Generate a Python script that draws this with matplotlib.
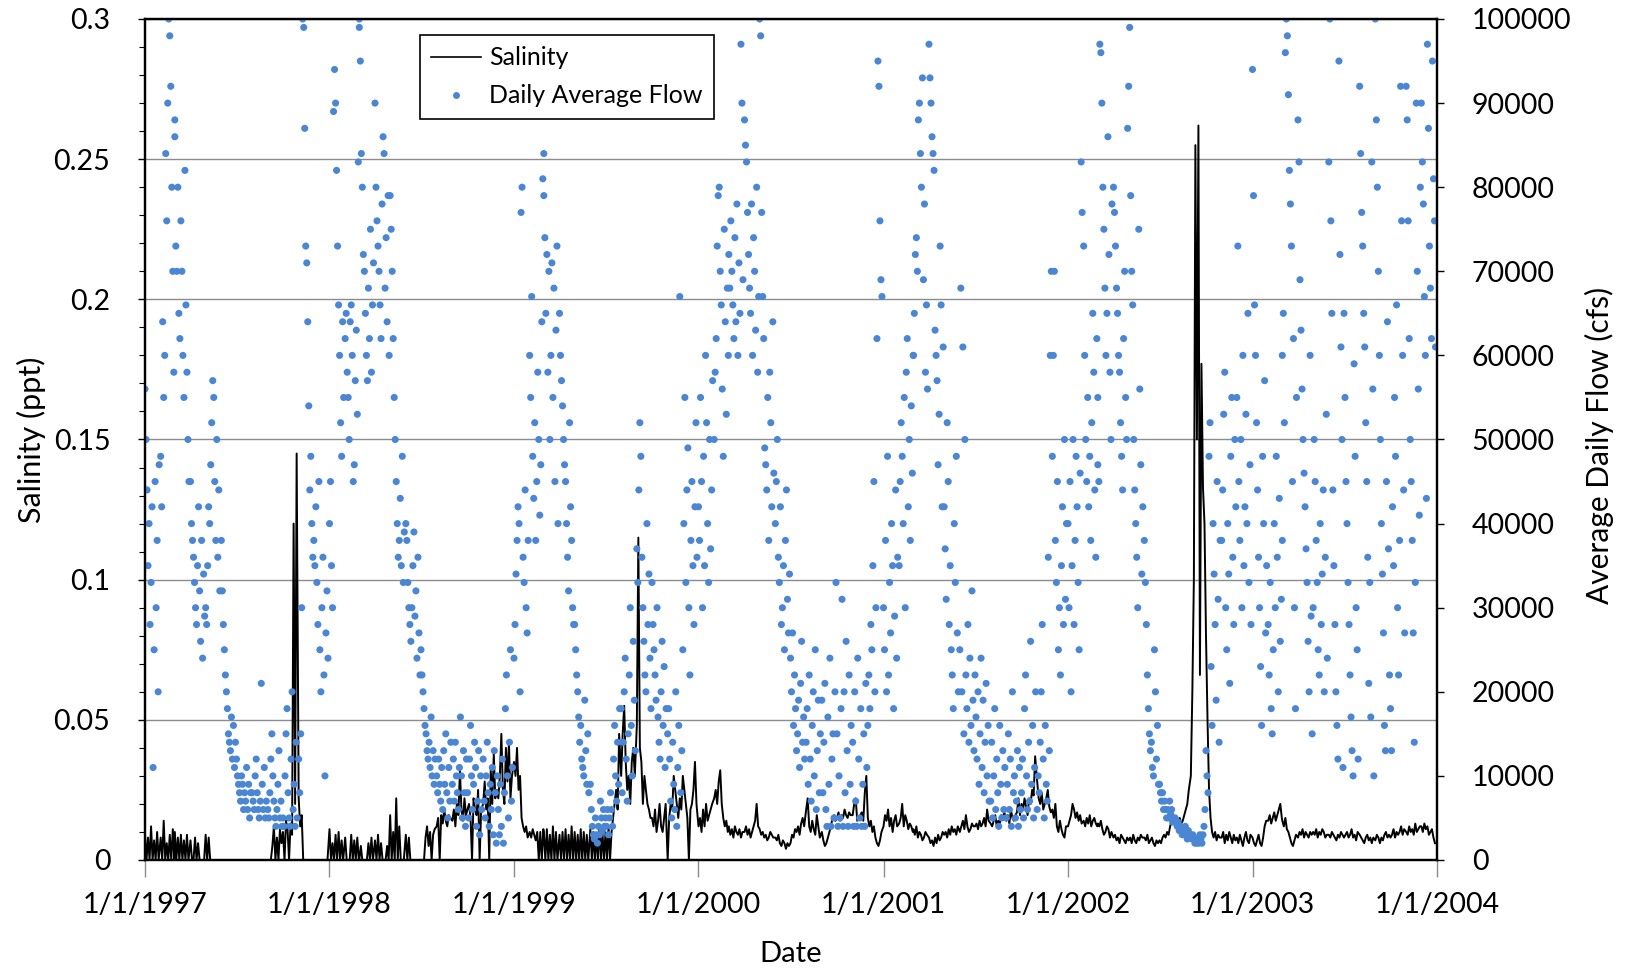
import numpy as np
import pandas as pd
import matplotlib
matplotlib.use("Agg")
import matplotlib.pyplot as plt
from matplotlib.ticker import MultipleLocator, FuncFormatter
from matplotlib.lines import Line2D

#%% --- Data ---

years = [1997, 1998, 1999, 2000, 2001, 2002, 2003]
flow_days = [1, 3, 5, 7, 9, 11, 13, 15, 17, 19, 21, 23, 25, 27, 29]
sal_days = [1, 4, 7, 10, 13, 16, 19, 22, 25, 28]
tick_years = [1997, 1998, 1999, 2000, 2001, 2002, 2003, 2004]

# Daily average flow, thousands of cfs (15 readings per month)
flow_1997 = [56, 50, 44, 35, 40, 28, 33, 42, 11, 25, 45, 30, 38, 20, 47,
             48, 42, 64, 55, 60, 84, 76, 90, 100, 98, 92, 80, 70, 58, 86,
             88, 73, 70, 80, 65, 62, 76, 70, 60, 55, 82, 66, 58, 50, 45,
             45, 40, 38, 36, 33, 30, 28, 35, 42, 32, 26, 38, 24, 34, 29,
             30, 28, 35, 42, 40, 47, 52, 57, 55, 45, 38, 50, 36, 44, 32,
             38, 32, 28, 25, 22, 20, 18, 15, 14, 13, 17, 12, 16, 11, 14,
             12, 10, 9, 8, 7, 10, 9, 6, 8, 7, 11, 6, 9, 5, 8,
             8, 7, 6, 10, 12, 8, 6, 5, 7, 21, 9, 6, 11, 5, 7,
             6, 5, 8, 12, 15, 10, 7, 5, 4, 6, 9, 13, 5, 7, 4,
             5, 4, 10, 15, 18, 8, 5, 4, 12, 20, 6, 9, 4, 14, 5,
             12, 8, 15, 30, 100, 99, 87, 73, 71, 64, 54, 44, 48, 40, 36,
             38, 35, 42, 33, 28, 45, 25, 20, 30, 36, 22, 10, 27, 32, 24]
flow_1998 = [40, 45, 35, 30, 89, 94, 90, 82, 73, 66, 60, 52, 48, 64, 55,
             62, 65, 58, 55, 50, 64, 66, 60, 45, 47, 57, 63, 53, 83, 99,
             100, 95, 84, 80, 72, 70, 65, 60, 57, 68, 62, 75, 58, 66, 71,
             90, 80, 76, 73, 70, 66, 62, 78, 86, 84, 68, 74, 64, 79, 60,
             79, 75, 70, 62, 55, 50, 45, 40, 36, 38, 43, 35, 48, 33, 39,
             40, 38, 33, 30, 28, 26, 30, 35, 39, 29, 32, 24, 36, 27, 22,
             25, 22, 20, 18, 16, 15, 13, 12, 14, 11, 17, 10, 13, 9, 12,
             10, 8, 12, 9, 7, 11, 6, 13, 9, 15, 8, 5, 11, 7, 14,
             9, 12, 7, 14, 10, 8, 6, 11, 17, 10, 5, 13, 8, 4, 12,
             8, 5, 12, 16, 10, 6, 9, 14, 11, 4, 7, 13, 3, 10, 6,
             12, 7, 5, 10, 14, 8, 4, 9, 6, 11, 3, 13, 8, 2, 10,
             6, 3, 9, 4, 12, 2, 8, 18, 22, 10, 5, 14, 25, 7, 11]
flow_1999 = [24, 28, 34, 38, 42, 40, 20, 77, 80, 36, 33, 44, 30, 27, 38,
             60, 55, 67, 48, 43, 52, 38, 45, 58, 50, 41, 47, 64, 81, 84,
             79, 74, 65, 72, 58, 70, 50, 60, 71, 55, 68, 45, 63, 73, 40,
             65, 60, 57, 54, 50, 47, 45, 40, 36, 32, 52, 42, 38, 30, 28,
             28, 25, 22, 20, 17, 14, 16, 12, 11, 10, 19, 13, 9, 15, 8,
             9, 6, 4, 3, 2.5, 5, 3, 2, 4, 3, 7, 5, 3.5, 6, 4,
             5, 4, 6, 3, 5, 8, 6, 4, 12, 16, 10, 7, 14, 9, 18,
             18, 8, 14, 20, 24, 12, 7, 15, 22, 30, 16, 10, 26, 19, 13,
             37, 33, 44, 52, 48, 36, 30, 26, 22, 20, 40, 28, 34, 24, 18,
             33, 28, 25, 22, 19, 30, 17, 14, 12, 20, 26, 16, 23, 11, 18,
             15, 18, 12, 7, 5, 14, 9, 6, 20, 4, 11, 16, 67, 8, 13,
             25, 40, 55, 33, 44, 49, 30, 22, 38, 45, 35, 28, 42, 52, 36]
flow_2000 = [42, 38, 55, 45, 30, 48, 35, 60, 52, 40, 33, 50, 37, 44, 57,
             50, 58, 62, 73, 79, 80, 70, 66, 56, 48, 75, 64, 53, 68, 60,
             72, 68, 76, 70, 66, 62, 74, 64, 78, 60, 71, 65, 97, 90, 69,
             88, 85, 83, 77, 72, 68, 65, 78, 60, 74, 70, 63, 80, 58, 67,
             100, 98, 77, 67, 62, 49, 47, 44, 55, 38, 58, 52, 42, 64, 46,
             40, 45, 50, 36, 33, 42, 28, 30, 35, 25, 38, 44, 31, 27, 34,
             24, 20, 27, 16, 22, 18, 13, 15, 19, 11, 21, 26, 14, 17, 12,
             14, 18, 9, 22, 12, 7, 16, 20, 10, 25, 6, 13, 19, 8, 15,
             19, 8, 14, 21, 6, 4, 17, 9, 24, 4, 12, 15, 5, 20, 33,
             15, 4, 10, 5, 18, 31, 4, 20, 8, 26, 13, 4, 22, 9, 16,
             14, 4, 20, 7, 4, 24, 12, 5, 18, 4, 9, 15, 4, 21, 11,
             16, 22, 18, 28, 25, 35, 45, 20, 30, 62, 95, 92, 76, 69, 67]
flow_2001 = [30, 25, 38, 20, 48, 22, 33, 27, 40, 35, 18, 29, 44, 24, 36,
             35, 45, 52, 48, 40, 55, 30, 58, 62, 42, 50, 38, 54, 46, 60,
             60, 65, 72, 74, 70, 88, 90, 84, 80, 93, 69, 78, 58, 66, 56,
             97, 93, 90, 86, 84, 82, 63, 60, 57, 47, 53, 73, 66, 42, 61,
             42, 37, 31, 52, 45, 28, 35, 25, 22, 18, 40, 33, 48, 27, 20,
             25, 68, 20, 61, 15, 50, 22, 18, 28, 14, 24, 16, 32, 19, 13,
             22, 17, 12, 20, 9, 15, 24, 11, 19, 8, 14, 21, 10, 16, 7,
             7, 14, 5, 10, 18, 6, 12, 8, 4, 16, 9, 5, 13, 6, 11,
             5, 9, 15, 6, 12, 4, 20, 8, 10, 5, 7, 13, 4, 11, 6,
             8, 12, 5, 18, 22, 10, 6, 14, 7, 26, 9, 16, 5, 11, 20,
             6, 10, 8, 14, 20, 28, 12, 5, 16, 9, 7, 36, 13, 60, 70,
             48, 60, 70, 38, 33, 45, 25, 30, 22, 35, 42, 28, 50, 31, 40]
flow_2002 = [40, 30, 45, 20, 35, 50, 28, 38, 48, 42, 33, 25, 46, 83, 77,
             73, 60, 50, 45, 55, 42, 48, 38, 52, 65, 58, 44, 36, 62, 47,
             55, 45, 97, 96, 90, 80, 75, 68, 60, 65, 86, 72, 58, 50, 78,
             80, 77, 73, 68, 65, 60, 58, 52, 48, 44, 62, 70, 55, 50, 87,
             92, 99, 79, 70, 66, 50, 44, 40, 36, 30, 75, 56, 47, 34, 42,
             38, 33, 28, 22, 18, 15, 13, 14, 11, 10, 25, 20, 12, 16, 9,
             9, 8, 7, 8, 6, 7, 6, 5, 6, 5, 7, 5.5, 6, 4.5, 5,
             5, 4.5, 4, 4.5, 3.5, 4, 3.5, 3, 3.5, 3, 4, 3, 2.5, 3.5, 3,
             3, 2.5, 3, 2.5, 2, 2.5, 2, 2.5, 2, 3, 2.5, 2, 3, 4, 6,
             13, 10, 8, 48, 52, 23, 16, 40, 34, 28, 19, 45, 31, 14, 38,
             38, 44, 53, 58, 30, 25, 40, 34, 21, 48, 55, 36, 28, 50, 42,
             55, 73, 45, 38, 50, 30, 60, 35, 42, 53, 40, 65, 33, 47, 28]
flow_2003 = [94, 79, 66, 60, 52, 44, 36, 30, 23, 16, 48, 40, 57, 27, 35,
             28, 22, 33, 18, 15, 25, 40, 30, 48, 36, 20, 43, 26, 31, 38,
             60, 65, 52, 96, 100, 98, 91, 82, 78, 73, 45, 62, 30, 18, 55,
             88, 83, 69, 63, 56, 50, 46, 42, 37, 33, 26, 20, 60, 29, 15,
             30, 50, 45, 38, 33, 25, 22, 40, 28, 34, 44, 20, 36, 53, 24,
             83, 100, 76, 65, 44, 35, 28, 20, 16, 12, 95, 72, 61, 50, 11,
             65, 55, 45, 40, 33, 28, 22, 17, 13, 10, 59, 48, 30, 25, 12,
             92, 84, 77, 73, 65, 61, 52, 45, 36, 21, 33, 17, 83, 56, 10,
             100, 88, 80, 70, 60, 50, 40, 34, 27, 16, 13, 45, 64, 37, 22,
             18, 13, 42, 35, 55, 48, 66, 30, 22, 38, 92, 76, 60, 44, 27,
             92, 88, 76, 62, 50, 45, 38, 27, 14, 33, 90, 70, 56, 41, 80,
             90, 83, 78, 67, 60, 43, 97, 87, 73, 68, 62, 95, 81, 76, 61]

# Salinity, ppt (10 readings per month)
sal_1997 = [0.009, 0, 0.008, 0, 0.012, 0, 0.007, 0, 0.010, 0,
            0.008, 0, 0.014, 0, 0.006, 0, 0.009, 0, 0.011, 0,
            0.010, 0, 0.008, 0, 0.009, 0, 0.007, 0, 0.009, 0,
            0.007, 0, 0, 0.008, 0, 0.006, 0, 0, 0, 0,
            0.009, 0, 0.008, 0, 0, 0, 0, 0, 0, 0,
            0, 0, 0, 0, 0, 0, 0, 0, 0, 0,
            0, 0, 0, 0, 0, 0, 0, 0, 0, 0,
            0, 0, 0, 0, 0, 0, 0, 0, 0, 0,
            0, 0, 0, 0.005, 0.012, 0, 0.008, 0, 0.011, 0.006,
            0.010, 0, 0.014, 0.011, 0, 0.013, 0.009, 0.120, 0.020, 0.145,
            0.022, 0.012, 0.016, 0, 0, 0, 0, 0, 0, 0,
            0, 0, 0, 0, 0, 0, 0, 0, 0, 0]
sal_1998 = [0.011, 0, 0.006, 0, 0.009, 0, 0.010, 0, 0.007, 0,
            0.008, 0, 0, 0, 0.009, 0, 0.007, 0, 0.008, 0,
            0, 0.005, 0, 0, 0, 0, 0.006, 0, 0.008, 0,
            0.007, 0, 0.009, 0, 0.006, 0, 0, 0, 0.005, 0,
            0.016, 0, 0.010, 0, 0.022, 0, 0.012, 0, 0, 0,
            0.009, 0, 0.008, 0, 0, 0, 0, 0, 0, 0,
            0, 0, 0, 0.008, 0.012, 0.005, 0.010, 0, 0.009, 0.011,
            0.012, 0.015, 0, 0.016, 0.013, 0.018, 0.014, 0.012, 0.016, 0.015,
            0.014, 0.018, 0.012, 0.020, 0.016, 0.032, 0.018, 0.014, 0.022, 0.016,
            0.018, 0.020, 0.015, 0, 0.022, 0.018, 0.016, 0.025, 0, 0.018,
            0.020, 0.028, 0.018, 0.022, 0, 0.032, 0.020, 0.038, 0.022, 0.025,
            0.022, 0.030, 0.045, 0.025, 0.020, 0.040, 0.028, 0.042, 0.022, 0.030]
sal_1999 = [0.035, 0.030, 0.040, 0.025, 0.030, 0.015, 0.012, 0.010, 0.012, 0.008,
            0.010, 0.008, 0.011, 0.009, 0.007, 0.010, 0, 0.010, 0, 0.011,
            0.010, 0, 0.011, 0, 0.009, 0, 0.012, 0, 0.010, 0,
            0.009, 0, 0.010, 0, 0.011, 0, 0.009, 0, 0.012, 0,
            0.010, 0, 0.009, 0, 0.011, 0, 0.010, 0, 0.009, 0,
            0.011, 0, 0.010, 0, 0.009, 0, 0.012, 0, 0.010, 0,
            0.010, 0, 0.012, 0, 0.010, 0.015, 0.020, 0.025, 0.018, 0.045,
            0.030, 0.045, 0.055, 0.035, 0.025, 0.030, 0.020, 0.035, 0.040, 0.030,
            0.048, 0.115, 0.040, 0.035, 0.020, 0.030, 0.025, 0.020, 0.018, 0.015,
            0.015, 0.012, 0.018, 0.010, 0.014, 0.020, 0.012, 0.010, 0.015, 0.020,
            0, 0.015, 0.020, 0.018, 0.030, 0.025, 0.020, 0.015, 0.022, 0.018,
            0.030, 0.025, 0.020, 0.015, 0, 0.018, 0.020, 0.025, 0.035, 0.020]
sal_2000 = [0.012, 0.015, 0.010, 0.018, 0.012, 0.020, 0.014, 0.016, 0.018, 0.020,
            0.022, 0.025, 0.020, 0.028, 0.032, 0.020, 0.015, 0.012, 0.014, 0.010,
            0.012, 0.009, 0.011, 0.008, 0.012, 0.010, 0.009, 0.011, 0.008, 0.010,
            0.010, 0.012, 0.009, 0.011, 0.008, 0.010, 0.012, 0.014, 0.020, 0.012,
            0.011, 0.009, 0.010, 0.008, 0.009, 0.007, 0.008, 0.010, 0.009, 0.008,
            0.008, 0.007, 0.009, 0.006, 0.005, 0.007, 0.006, 0.004, 0.006, 0.005,
            0.006, 0.009, 0.008, 0.011, 0.010, 0.012, 0.009, 0.013, 0.015, 0.012,
            0.018, 0.022, 0.012, 0.010, 0.014, 0.011, 0.009, 0.016, 0.012, 0.008,
            0.010, 0.007, 0.005, 0.006, 0.008, 0.010, 0.012, 0.015, 0.016, 0.014,
            0.015, 0.017, 0.014, 0.016, 0.015, 0.018, 0.016, 0.015, 0.017, 0.016,
            0.016, 0.020, 0.022, 0.014, 0.015, 0.016, 0.017, 0.014, 0.024, 0.030,
            0.015, 0.012, 0.014, 0.010, 0.012, 0.008, 0.006, 0.005, 0.007, 0.010]
sal_2001 = [0.012, 0.016, 0.014, 0.018, 0.012, 0.015, 0.010, 0.014, 0.016, 0.012,
            0.013, 0.015, 0.020, 0.012, 0.016, 0.014, 0.011, 0.013, 0.012, 0.010,
            0.011, 0.009, 0.012, 0.008, 0.010, 0.009, 0.007, 0.008, 0.010, 0.009,
            0.008, 0.006, 0.007, 0.005, 0.008, 0.006, 0.009, 0.007, 0.008, 0.010,
            0.009, 0.010, 0.008, 0.011, 0.009, 0.012, 0.010, 0.011, 0.009, 0.012,
            0.010, 0.012, 0.014, 0.011, 0.016, 0.012, 0.010, 0.011, 0.013, 0.012,
            0.012, 0.013, 0.011, 0.014, 0.012, 0.013, 0.015, 0.012, 0.018, 0.014,
            0.013, 0.012, 0.014, 0.016, 0.012, 0.014, 0.013, 0.016, 0.015, 0.017,
            0.014, 0.016, 0.013, 0.018, 0.015, 0.014, 0.016, 0.017, 0.022, 0.016,
            0.020, 0.018, 0.022, 0.019, 0.016, 0.022, 0.020, 0.025, 0.023, 0.037,
            0.028, 0.022, 0.020, 0.024, 0.018, 0.020, 0.022, 0.025, 0.019, 0.017,
            0.018, 0.015, 0.020, 0.012, 0.010, 0.014, 0.011, 0.009, 0.008, 0.012]
sal_2002 = [0.012, 0.014, 0.016, 0.020, 0.018, 0.015, 0.017, 0.014, 0.016, 0.013,
            0.014, 0.012, 0.015, 0.013, 0.016, 0.012, 0.014, 0.015, 0.013, 0.012,
            0.013, 0.012, 0.014, 0.011, 0.009, 0.010, 0.012, 0.011, 0.008, 0.010,
            0.008, 0.009, 0.007, 0.008, 0.006, 0.009, 0.008, 0.007, 0.006, 0.008,
            0.007, 0.008, 0.006, 0.009, 0.007, 0.006, 0.008, 0.007, 0.009, 0.008,
            0.008, 0.007, 0.009, 0.006, 0.007, 0.008, 0.006, 0.005, 0.007, 0.006,
            0.007, 0.006, 0.008, 0.009, 0.008, 0.010, 0.009, 0.012, 0.014, 0.016,
            0.014, 0.013, 0.012, 0.015, 0.013, 0.014, 0.016, 0.018, 0.020, 0.025,
            0.030, 0.060, 0.100, 0.255, 0.150, 0.262, 0.066, 0.177, 0.133, 0.120,
            0.080, 0.050, 0.025, 0.015, 0.010, 0.008, 0.010, 0.007, 0.009, 0.008,
            0.008, 0.010, 0.006, 0.009, 0.007, 0.010, 0.008, 0.006, 0.009, 0.007,
            0.008, 0.006, 0.009, 0.007, 0.005, 0.008, 0.010, 0.007, 0.006, 0.009]
sal_2003 = [0.008, 0.006, 0.005, 0.007, 0.009, 0.006, 0.005, 0.008, 0.012, 0.014,
            0.014, 0.016, 0.013, 0.015, 0.017, 0.014, 0.016, 0.018, 0.020, 0.015,
            0.014, 0.012, 0.015, 0.011, 0.010, 0.008, 0.006, 0.005, 0.007, 0.009,
            0.008, 0.010, 0.009, 0.011, 0.008, 0.010, 0.009, 0.008, 0.010, 0.009,
            0.010, 0.009, 0.011, 0.008, 0.010, 0.009, 0.011, 0.010, 0.008, 0.009,
            0.009, 0.008, 0.010, 0.009, 0.008, 0.007, 0.009, 0.008, 0.010, 0.009,
            0.008, 0.009, 0.010, 0.008, 0.009, 0.011, 0.008, 0.009, 0.007, 0.010,
            0.009, 0.008, 0.007, 0.006, 0.008, 0.009, 0.007, 0.008, 0.006, 0.008,
            0.007, 0.009, 0.008, 0.006, 0.008, 0.007, 0.009, 0.010, 0.008, 0.009,
            0.008, 0.009, 0.011, 0.008, 0.010, 0.009, 0.010, 0.012, 0.009, 0.011,
            0.010, 0.009, 0.012, 0.010, 0.011, 0.009, 0.013, 0.010, 0.011, 0.012,
            0.012, 0.010, 0.013, 0.011, 0.012, 0.009, 0.010, 0.011, 0.008, 0.006]

#%% --- Prepare data ---

def month_dates(day_list):
    # day offsets from the first of each month (Feb 29 rolls into Mar 1)
    return pd.DatetimeIndex([pd.Timestamp(y, m, 1) + pd.Timedelta(days=d - 1)
                             for y in years for m in range(1, 13)
                             for d in day_list])

flow_dates = month_dates(flow_days)
sal_dates = month_dates(sal_days)
flow_kcfs = (flow_1997 + flow_1998 + flow_1999 + flow_2000
             + flow_2001 + flow_2002 + flow_2003)
flow_cfs = np.array(flow_kcfs, dtype=float) * 1000
salinity = np.array(sal_1997 + sal_1998 + sal_1999 + sal_2000
                    + sal_2001 + sal_2002 + sal_2003)

#%% --- Plot data ---

plt.rcParams["font.family"] = ["Lato", "DejaVu Sans"]

fig = plt.figure(figsize=(16.25, 9.69), dpi=100)
ax = fig.add_axes([145 / 1625, 1 - 860 / 969, 1292 / 1625, 841 / 969])
ax2 = ax.twinx()

flow_color = "#4a86d4"

ax.plot(sal_dates, salinity, color="black", linewidth=1.4)
ax2.scatter(flow_dates, flow_cfs, s=26, color=flow_color, edgecolors="none")

# --- Axes setup ---
ax.set_xlim(pd.Timestamp("1997-01-01"), pd.Timestamp("2004-01-01"))
ax.set_ylim(0, 0.3)
ax2.set_ylim(0, 100000)

ax.yaxis.set_major_locator(MultipleLocator(0.05))
ax.yaxis.set_minor_locator(MultipleLocator(0.01))
ax.yaxis.set_major_formatter(FuncFormatter(lambda v, p: f"{v:g}"))
ax2.yaxis.set_major_locator(MultipleLocator(10000))
ax2.yaxis.set_major_formatter(FuncFormatter(lambda v, p: f"{v:.0f}"))

ax.set_xticks([pd.Timestamp(f"{y}-01-01") for y in tick_years])
ax.set_xticklabels([f"1/1/{y}" for y in tick_years])

ax.grid(axis="y", color="#8c8c8c", linewidth=1.0)
ax.set_axisbelow(True)

ax.tick_params(axis="x", which="major", direction="out", length=12,
               width=1, color="#8c8c8c", labelsize=20.5, pad=11)
ax.tick_params(axis="y", which="major", direction="out", length=5,
               width=1, labelsize=20.5, pad=20)
ax.tick_params(axis="y", which="minor", direction="out", length=4, width=0.8)
ax2.tick_params(axis="y", which="major", direction="out", length=5,
                width=1, labelsize=20.5, pad=20)

for a in (ax, ax2):
    for side in ["top", "bottom", "left", "right"]:
        a.spines[side].set_linewidth(1.6)
        a.spines[side].set_color("black")

# --- Text ---
fig.text(31 / 1625, 1 - 440 / 969, "Salinity (ppt)", rotation=90,
         ha="center", va="center", fontsize=22)
fig.text(1599 / 1625, 1 - 445 / 969, "Average Daily Flow (cfs)", rotation=90,
         ha="center", va="center", fontsize=21.5)
fig.text(791 / 1625, 1 - 954 / 969, "Date", ha="center", va="center",
         fontsize=21)

# --- Legend ---
handles = [Line2D([], [], color="black", linewidth=1.2),
           Line2D([], [], color=flow_color, marker="o", linestyle="none",
                  markersize=5, markeredgewidth=0)]
leg = ax2.legend(handles, ["Salinity", "Daily Average Flow"],
                 loc="upper left",
                 bbox_to_anchor=((420 - 145) / 1292, (860 - 35) / 841),
                 fontsize=18, frameon=True, fancybox=False,
                 edgecolor="black", framealpha=1, borderaxespad=0,
                 handlelength=2.0, handletextpad=0.3, labelspacing=0.6,
                 borderpad=0.45)
leg.get_frame().set_linewidth(1.2)

#%% --- Export ---
fig.savefig("out.png", dpi=100)
